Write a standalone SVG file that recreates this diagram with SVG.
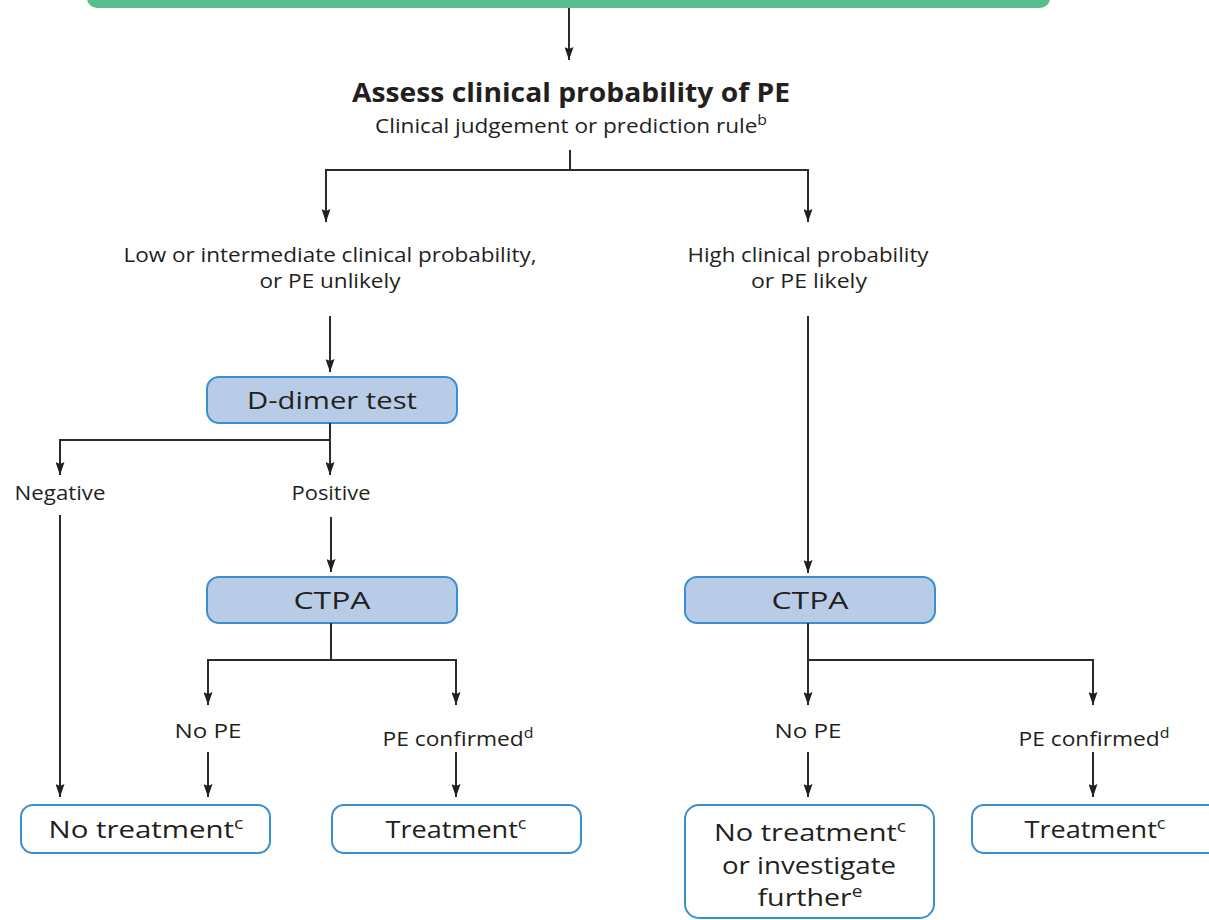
<svg xmlns="http://www.w3.org/2000/svg" width="1209" height="920" viewBox="0 0 1209 920">
<defs>
<marker id="ah" viewBox="0 0 13 9" refX="13" refY="4.5" markerWidth="13" markerHeight="9" markerUnits="userSpaceOnUse" orient="auto">
<path d="M0,0 L13,4.5 L0,9 L2,4.5 Z" fill="#231f20"/>
</marker>
<style>
text{font-family:"Open Sans",Lato,"Liberation Sans",sans-serif;fill:#231f20;text-anchor:middle}
.lbl{font-size:20px}
.box{font-size:24px}
.title{font-size:27px;font-weight:bold}
.blue{fill:#b8cce8;stroke:#3a8fd0;stroke-width:2}
.white{fill:#ffffff;stroke:#3a8fd0;stroke-width:2}
.ln{fill:none;stroke:#2b2b2b;stroke-width:2}
.ar{fill:none;stroke:#2b2b2b;stroke-width:2;marker-end:url(#ah)}
</style>
</defs>
<rect width="1209" height="920" fill="#ffffff"/>
<g id="top">
<rect x="87" y="-40" width="963" height="48" rx="10" fill="#55bf8f"/>
</g>
<g id="assess">
<text class="title" x="571" y="102" textLength="438" lengthAdjust="spacingAndGlyphs">Assess clinical probability of PE</text>
<text class="lbl" x="571" y="133" textLength="392" lengthAdjust="spacingAndGlyphs">Clinical judgement or prediction rule<tspan dy="-8" font-size="14">b</tspan></text>
</g>
<g id="low">
<text class="lbl" x="330" y="262" textLength="413" lengthAdjust="spacingAndGlyphs">Low or intermediate clinical probability,</text>
<text class="lbl" x="330" y="288" textLength="141" lengthAdjust="spacingAndGlyphs">or PE unlikely</text>
</g>
<g id="high">
<text class="lbl" x="808" y="262" textLength="241" lengthAdjust="spacingAndGlyphs">High clinical probability</text>
<text class="lbl" x="809" y="288" textLength="116" lengthAdjust="spacingAndGlyphs">or PE likely</text>
</g>
<g id="ddimer">
<rect class="blue" x="207" y="377" width="250" height="46" rx="12"/>
<text class="box" x="332" y="409" textLength="170" lengthAdjust="spacingAndGlyphs">D-dimer test</text>
</g>
<g id="negative"><text class="lbl" x="60" y="500" textLength="91" lengthAdjust="spacingAndGlyphs">Negative</text></g>
<g id="positive"><text class="lbl" x="331" y="500" textLength="79" lengthAdjust="spacingAndGlyphs">Positive</text></g>
<g id="ctpa1">
<rect class="blue" x="207" y="577" width="250" height="46" rx="12"/>
<text class="box" x="332" y="609" textLength="77" lengthAdjust="spacingAndGlyphs">CTPA</text>
</g>
<g id="ctpa2">
<rect class="blue" x="685" y="577" width="250" height="46" rx="12"/>
<text class="box" x="810" y="609" textLength="77" lengthAdjust="spacingAndGlyphs">CTPA</text>
</g>
<g id="nope1"><text class="lbl" x="208" y="738" textLength="67" lengthAdjust="spacingAndGlyphs">No PE</text></g>
<g id="pec1"><text class="lbl" x="458" y="746" textLength="151" lengthAdjust="spacingAndGlyphs">PE confirmed<tspan dy="-8" font-size="14">d</tspan></text></g>
<g id="nope2"><text class="lbl" x="808" y="738" textLength="67" lengthAdjust="spacingAndGlyphs">No PE</text></g>
<g id="pec2"><text class="lbl" x="1094" y="746" textLength="151" lengthAdjust="spacingAndGlyphs">PE confirmed<tspan dy="-8" font-size="14">d</tspan></text></g>
<g id="notreat1">
<rect class="white" x="21" y="805" width="249" height="48" rx="12"/>
<text class="box" x="146" y="838" textLength="195" lengthAdjust="spacingAndGlyphs">No treatment<tspan dy="-9" font-size="16">c</tspan></text>
</g>
<g id="treat1">
<rect class="white" x="332" y="805" width="249" height="48" rx="12"/>
<text class="box" x="456" y="838" textLength="141" lengthAdjust="spacingAndGlyphs">Treatment<tspan dy="-9" font-size="16">c</tspan></text>
</g>
<g id="notreat2">
<rect class="white" x="685" y="805" width="249" height="113" rx="14"/>
<text class="box" x="810" y="841" textLength="192" lengthAdjust="spacingAndGlyphs">No treatment<tspan dy="-9" font-size="16">c</tspan></text>
<text class="box" x="809" y="874" textLength="174" lengthAdjust="spacingAndGlyphs">or investigate</text>
<text class="box" x="810" y="906" textLength="105" lengthAdjust="spacingAndGlyphs">further<tspan dy="-9" font-size="16">e</tspan></text>
</g>
<g id="treat2">
<rect class="white" x="972" y="805" width="250" height="48" rx="12"/>
<text class="box" x="1095" y="838" textLength="141" lengthAdjust="spacingAndGlyphs">Treatment<tspan dy="-9" font-size="16">c</tspan></text>
</g>
<g id="connectors">
<path class="ar" d="M569,8 V60"/>
<path class="ln" d="M570,150 V170 M326,170 H808"/>
<path class="ar" d="M326,169 V222"/>
<path class="ar" d="M808,169 V222"/>
<path class="ar" d="M330,316 V372"/>
<path class="ln" d="M330,423 V440 M59,440 H331"/>
<path class="ar" d="M60,439 V475"/>
<path class="ar" d="M330,439 V475"/>
<path class="ar" d="M60,515 V797"/>
<path class="ar" d="M331,517 V572"/>
<path class="ln" d="M331,623 V660 M207,660 H457"/>
<path class="ar" d="M208,659 V705"/>
<path class="ar" d="M456,659 V705"/>
<path class="ar" d="M208,752 V797"/>
<path class="ar" d="M456,752 V797"/>
<path class="ar" d="M808,316 V573"/>
<path class="ln" d="M808,623 V660 M808,660 H1094"/>
<path class="ar" d="M808,659 V705"/>
<path class="ar" d="M1093,659 V705"/>
<path class="ar" d="M808,752 V797"/>
<path class="ar" d="M1093,752 V797"/>
</g>
</svg>
